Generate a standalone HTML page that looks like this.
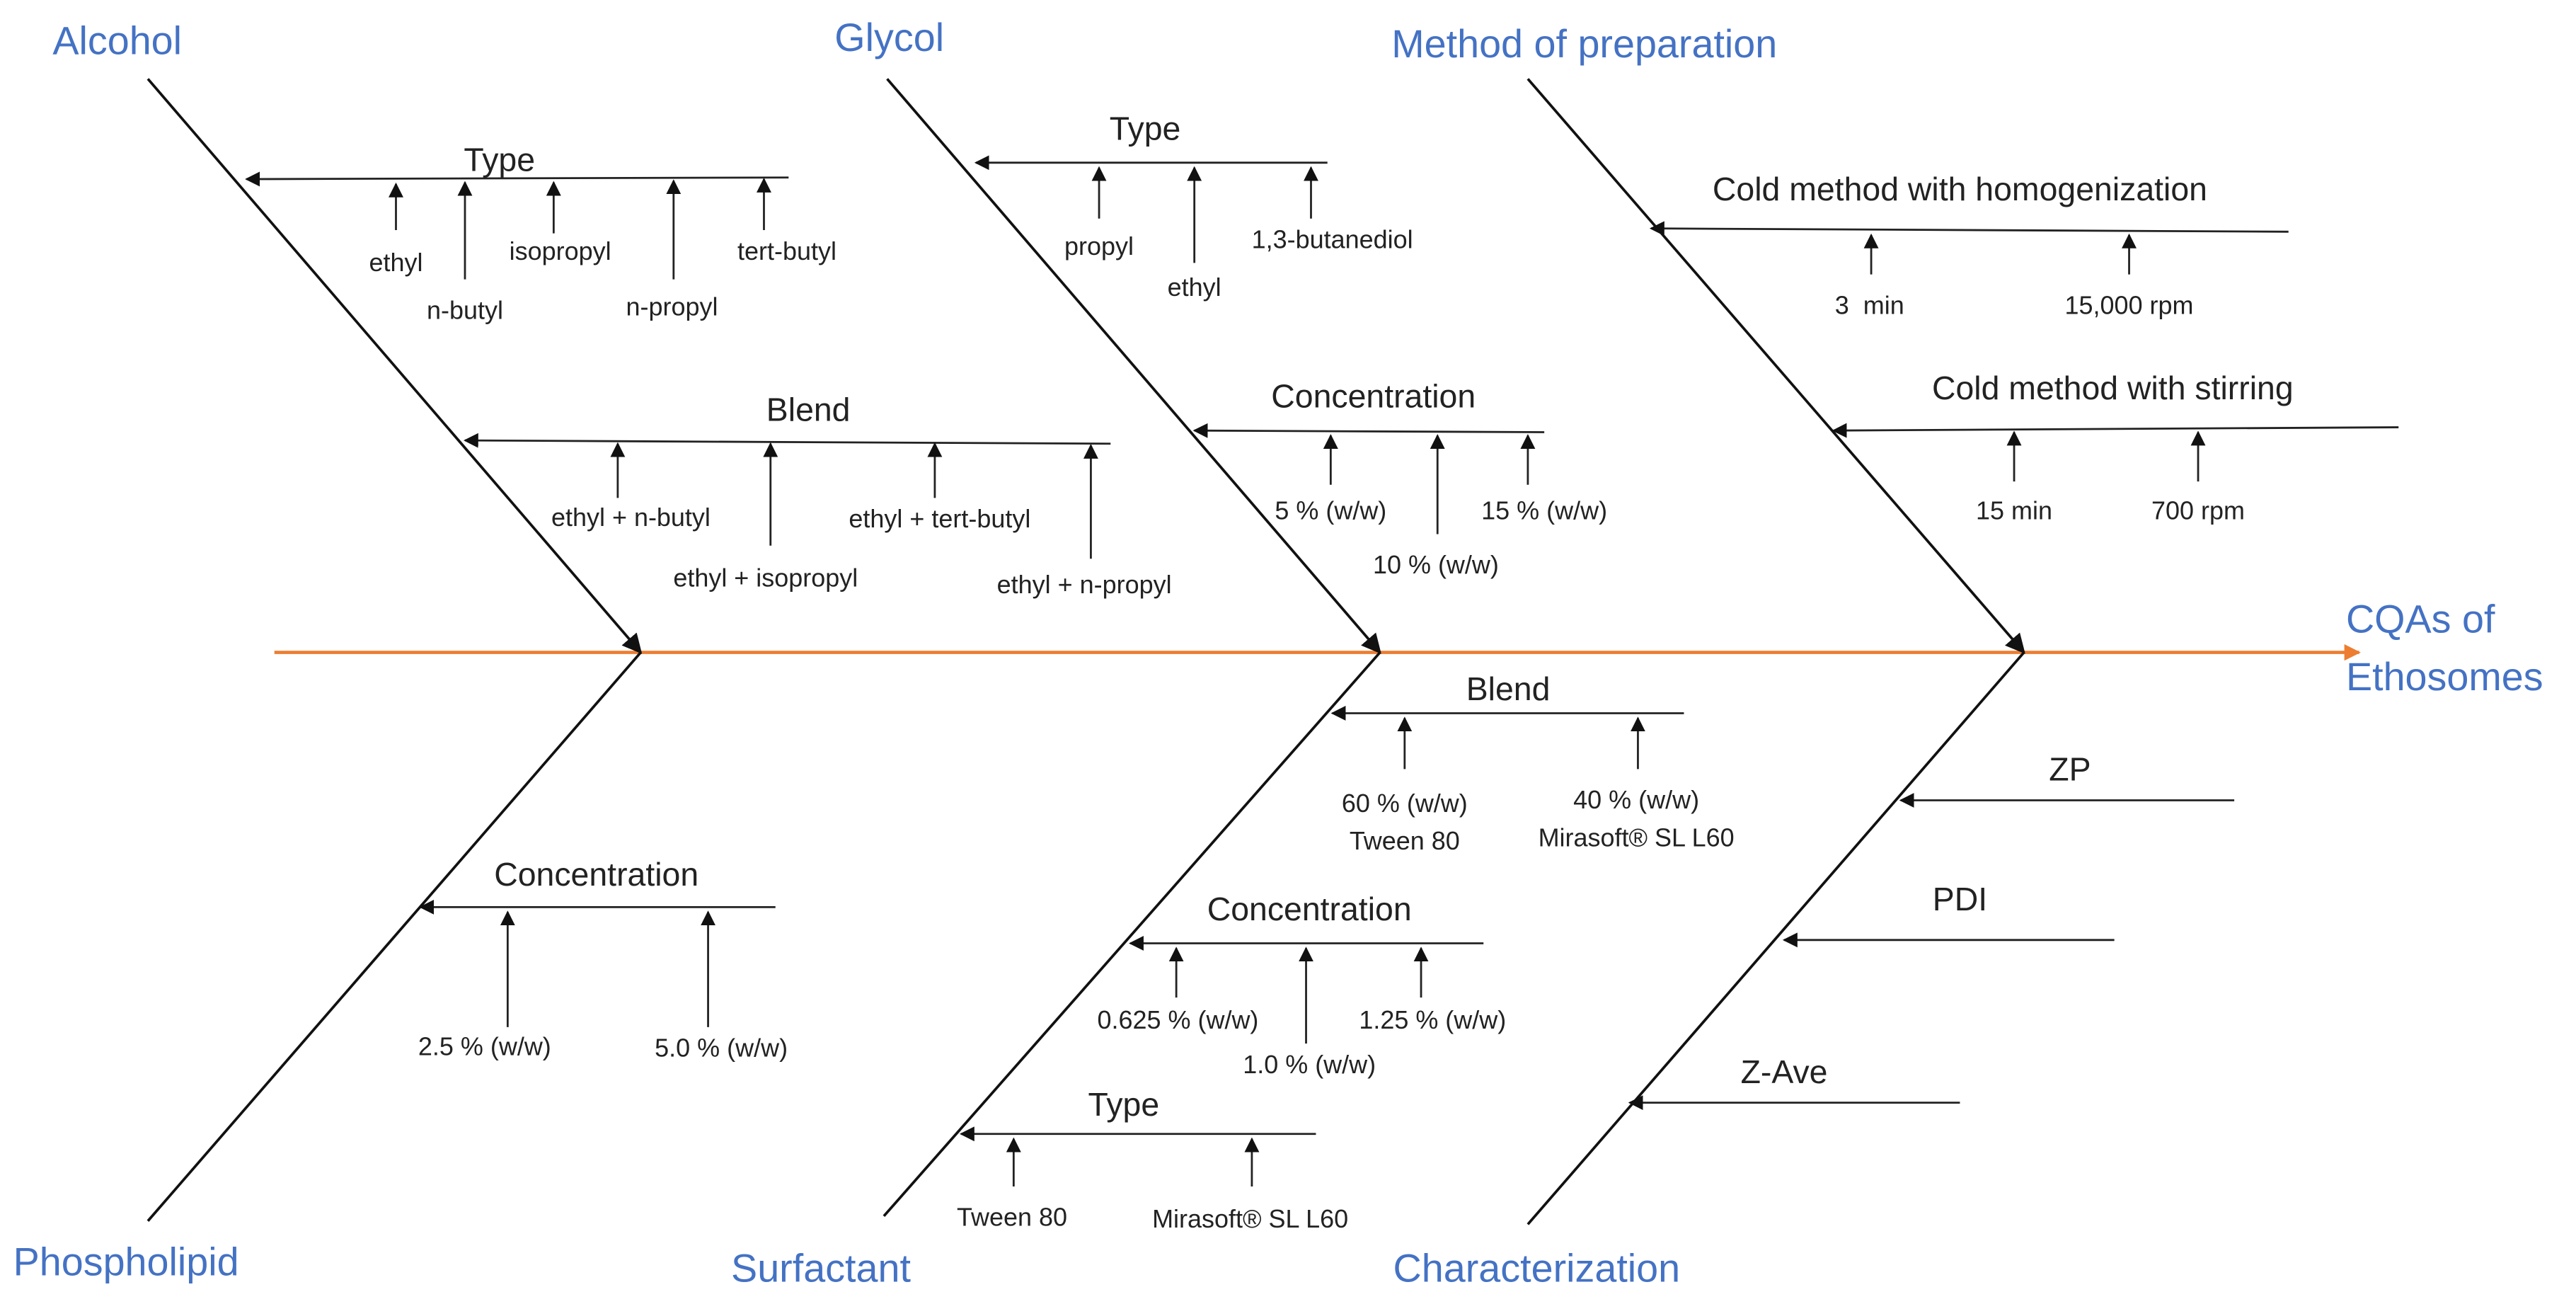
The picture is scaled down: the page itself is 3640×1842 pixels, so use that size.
<!DOCTYPE html>
<html><head><meta charset="utf-8"><style>
html,body{margin:0;padding:0;background:#fff;}
svg{display:block}
text{font-family:"Liberation Sans",sans-serif;fill:#222}
.t{fill:#4472C4;font-size:24px}
.m{font-size:20px;text-anchor:middle}
.s{font-size:15.5px;text-anchor:middle}
line{stroke:#222;stroke-width:1.2}
.b{stroke:#111;stroke-width:1.6}
</style></head><body>
<svg width="3640" height="1842" viewBox="0 0 1568 793.5" xmlns="http://www.w3.org/2000/svg">
<defs>
<marker id="a" viewBox="0 0 10 10" refX="9" refY="5" markerWidth="9" markerHeight="9" markerUnits="userSpaceOnUse" orient="auto"><path d="M0,0L10,5L0,10z" fill="#111"/></marker>
<marker id="ab" viewBox="0 0 10 10" refX="9" refY="5" markerWidth="12" markerHeight="12" markerUnits="userSpaceOnUse" orient="auto"><path d="M0,0L10,5L0,10z" fill="#111"/></marker>
<marker id="o" viewBox="0 0 10 10" refX="9" refY="5" markerWidth="10" markerHeight="10" markerUnits="userSpaceOnUse" orient="auto"><path d="M0,0L10,5L0,10z" fill="#ED7D31"/></marker>
</defs>
<!-- spine -->
<line x1="167" y1="397" x2="1436" y2="397" style="stroke:#ED7D31;stroke-width:2" marker-end="url(#o)"/>
<!-- bones -->
<line class="b" x1="90" y1="48" x2="390" y2="397" marker-end="url(#ab)"/>
<line class="b" x1="540" y1="48" x2="840" y2="397" marker-end="url(#ab)"/>
<line class="b" x1="930" y1="48" x2="1232" y2="397" marker-end="url(#ab)"/>
<line class="b" x1="90" y1="743" x2="390" y2="397"/>
<line class="b" x1="538" y1="740" x2="840" y2="397"/>
<line class="b" x1="930" y1="745" x2="1232" y2="397"/>
<!-- titles -->
<text class="t" x="32" y="33">Alcohol</text>
<text class="t" x="508" y="31">Glycol</text>
<text class="t" x="847" y="35">Method of preparation</text>
<text class="t" x="8" y="776">Phospholipid</text>
<text class="t" x="445" y="780">Surfactant</text>
<text class="t" x="848" y="780">Characterization</text>
<text class="t" x="1428" y="385">CQAs of</text>
<text class="t" x="1428" y="420">Ethosomes</text>

<g marker-end="url(#a)">
<!-- Alcohol Type -->
<line x1="480" y1="108" x2="150" y2="109"/>
<line x1="241" y1="140" x2="241" y2="112"/>
<line x1="283" y1="170" x2="283" y2="111"/>
<line x1="337" y1="142" x2="337" y2="111"/>
<line x1="410" y1="170" x2="410" y2="110"/>
<line x1="465" y1="140" x2="465" y2="109"/>
<!-- Alcohol Blend -->
<line x1="676" y1="270" x2="283" y2="268"/>
<line x1="376" y1="303" x2="376" y2="270"/>
<line x1="469" y1="332" x2="469" y2="270"/>
<line x1="569" y1="303" x2="569" y2="270"/>
<line x1="664" y1="340" x2="664" y2="271"/>
<!-- Glycol Type -->
<line x1="808" y1="99" x2="594" y2="99"/>
<line x1="669" y1="133" x2="669" y2="102"/>
<line x1="727" y1="160" x2="727" y2="102"/>
<line x1="798" y1="133" x2="798" y2="102"/>
<!-- Glycol Conc -->
<line x1="940" y1="263" x2="727" y2="262"/>
<line x1="810" y1="295" x2="810" y2="265"/>
<line x1="875" y1="325" x2="875" y2="265"/>
<line x1="930" y1="295" x2="930" y2="265"/>
<!-- Method homog -->
<line x1="1393" y1="141" x2="1005" y2="139"/>
<line x1="1139" y1="167" x2="1139" y2="143"/>
<line x1="1296" y1="167" x2="1296" y2="143"/>
<!-- Method stirring -->
<line x1="1460" y1="260" x2="1116" y2="262"/>
<line x1="1226" y1="293" x2="1226" y2="263"/>
<line x1="1338" y1="293" x2="1338" y2="263"/>
<!-- Phospholipid -->
<line x1="472" y1="552" x2="256" y2="552"/>
<line x1="309" y1="625" x2="309" y2="555"/>
<line x1="431" y1="625" x2="431" y2="555"/>
<!-- Surf Blend -->
<line x1="1025" y1="434" x2="811" y2="434"/>
<line x1="855" y1="468" x2="855" y2="437"/>
<line x1="997" y1="468" x2="997" y2="437"/>
<!-- Surf Conc -->
<line x1="903" y1="574" x2="688" y2="574"/>
<line x1="716" y1="607" x2="716" y2="577"/>
<line x1="795" y1="635" x2="795" y2="577"/>
<line x1="865" y1="607" x2="865" y2="577"/>
<!-- Surf Type -->
<line x1="801" y1="690" x2="585" y2="690"/>
<line x1="617" y1="722" x2="617" y2="693"/>
<line x1="762" y1="722" x2="762" y2="693"/>
<!-- Characterization -->
<line x1="1360" y1="487" x2="1157" y2="487"/>
<line x1="1287" y1="572" x2="1086" y2="572"/>
<line x1="1193" y1="671" x2="992" y2="671"/>
</g>

<!-- labels -->
<text class="m" x="304" y="104">Type</text>
<text class="s" x="241" y="165">ethyl</text>
<text class="s" x="283" y="194">n-butyl</text>
<text class="s" x="341" y="158">isopropyl</text>
<text class="s" x="409" y="192">n-propyl</text>
<text class="s" x="479" y="158">tert-butyl</text>
<text class="m" x="492" y="256">Blend</text>
<text class="s" x="384" y="320">ethyl + n-butyl</text>
<text class="s" x="466" y="357">ethyl + isopropyl</text>
<text class="s" x="572" y="321">ethyl + tert-butyl</text>
<text class="s" x="660" y="361">ethyl + n-propyl</text>

<text class="m" x="697" y="85">Type</text>
<text class="s" x="669" y="155">propyl</text>
<text class="s" x="727" y="180">ethyl</text>
<text class="s" x="811" y="151">1,3-butanediol</text>
<text class="m" x="836" y="248">Concentration</text>
<text class="s" x="810" y="316">5 % (w/w)</text>
<text class="s" x="874" y="349">10 % (w/w)</text>
<text class="s" x="940" y="316">15 % (w/w)</text>

<text class="m" x="1193" y="122">Cold method with homogenization</text>
<text class="s" x="1138" y="191">3&#160; min</text>
<text class="s" x="1296" y="191">15,000 rpm</text>
<text class="m" x="1286" y="243">Cold method with stirring</text>
<text class="s" x="1226" y="316">15 min</text>
<text class="s" x="1338" y="316">700 rpm</text>

<text class="m" x="363" y="539">Concentration</text>
<text class="s" x="295" y="642">2.5 % (w/w)</text>
<text class="s" x="439" y="643">5.0 % (w/w)</text>

<text class="m" x="918" y="426">Blend</text>
<text class="s" x="855" y="494">60 % (w/w)</text>
<text class="s" x="855" y="517">Tween 80</text>
<text class="s" x="996" y="492">40 % (w/w)</text>
<text class="s" x="996" y="515">Mirasoft® SL L60</text>
<text class="m" x="797" y="560">Concentration</text>
<text class="s" x="717" y="626">0.625 % (w/w)</text>
<text class="s" x="797" y="653">1.0 % (w/w)</text>
<text class="s" x="872" y="626">1.25 % (w/w)</text>
<text class="m" x="684" y="679">Type</text>
<text class="s" x="616" y="746">Tween 80</text>
<text class="s" x="761" y="747">Mirasoft® SL L60</text>

<text class="m" x="1260" y="475">ZP</text>
<text class="m" x="1193" y="554">PDI</text>
<text class="m" x="1086" y="659">Z-Ave</text>
</svg>
</body></html>
